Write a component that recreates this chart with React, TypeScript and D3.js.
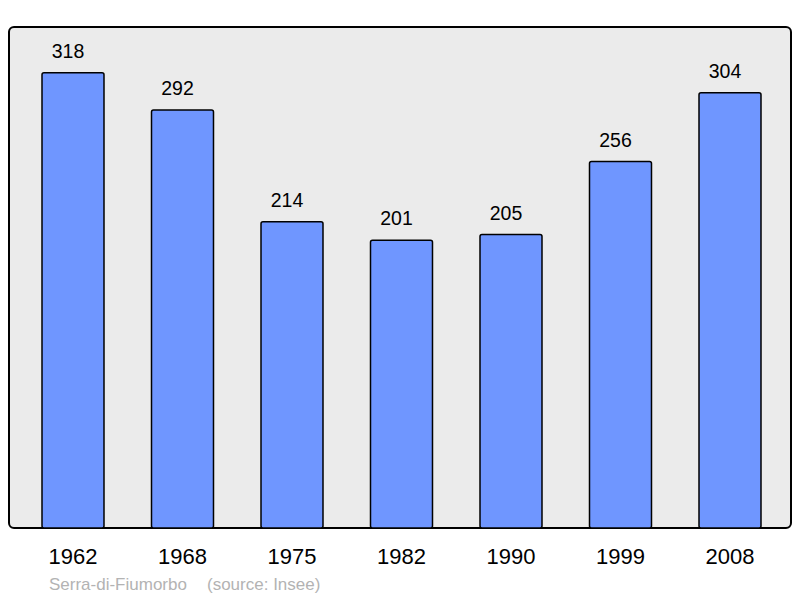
import React from "react";
import * as d3 from "d3";

const years = ["1962", "1968", "1975", "1982", "1990", "1999", "2008"];
const population = [318, 292, 214, 201, 205, 256, 304];
const commune = "Serra-di-Fiumorbo";
const source = "(source: Insee)";

export default function App() {
  const W = 800, H = 598;
  const panel = { x: 9, y: 27, w: 782, h: 501 };
  const x = d3
    .scaleBand<string>()
    .domain(years)
    .range([9.15, 793.85])
    .paddingInner(0.4338)
    .paddingOuter(0.3);
  const y = d3.scaleLinear().domain([0, 350]).range([528, 27]);
  const font = "'Liberation Sans', Arial, sans-serif";
  return (
    <svg width={W} height={H} style={{ position: "absolute", left: 0, top: 0 }}>
      <rect x={0} y={0} width={W} height={H} fill="#ffffff" />
      <rect
        x={panel.x}
        y={panel.y}
        width={panel.w}
        height={panel.h}
        rx={5}
        fill="#ebebeb"
        stroke="#000"
        strokeWidth={2}
      />
      {years.map((yr, i) => {
        const v = population[i];
        const bx = x(yr)!;
        const bw = x.bandwidth();
        return (
          <g key={yr}>
            <rect
              x={bx}
              y={y(v)}
              width={bw}
              height={y(0) - y(v)}
              rx={2}
              fill="#6f96ff"
              stroke="#000"
              strokeWidth={1.5}
            />
            <text
              x={bx + bw / 2 - 5}
              y={y(v) - 15}
              textAnchor="middle"
              fontFamily={font}
              fontSize={19.5}
              fill="#000"
            >
              {v}
            </text>
            <text
              x={bx + bw / 2}
              y={564}
              textAnchor="middle"
              fontFamily={font}
              fontSize={22}
              fill="#000"
            >
              {yr}
            </text>
          </g>
        );
      })}
      <text x={49} y={590} fontFamily={font} fontSize={17} fill="#b3b3b3">
        {commune}
      </text>
      <text x={207} y={590} fontFamily={font} fontSize={17} fill="#b3b3b3">
        {source}
      </text>
    </svg>
  );
}
